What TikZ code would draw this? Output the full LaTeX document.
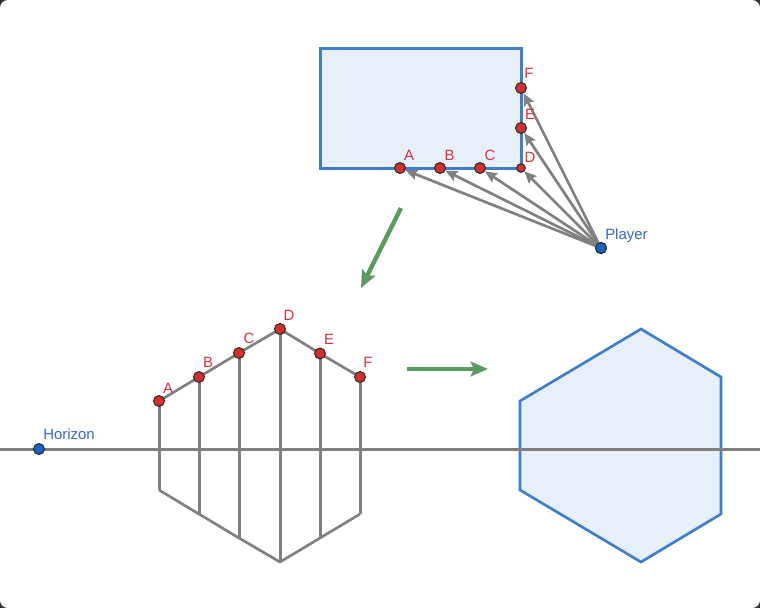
\documentclass[tikz,border=0pt]{standalone}
\usepackage{fontspec}
\setmainfont{Liberation Sans}
\definecolor{edgeblue}{HTML}{3D7FCC}
\definecolor{fillblue}{HTML}{E7F0F9}
\definecolor{ptred}{HTML}{D32F2F}
\definecolor{ptblue}{HTML}{1565C0}
\definecolor{linegray}{HTML}{808080}
\definecolor{arrowgreen}{HTML}{5A9A5E}
\definecolor{labred}{HTML}{D8303A}
\definecolor{labblue}{HTML}{3568C0}
\definecolor{cornerdark}{HTML}{303030}
\usetikzlibrary{arrows.meta}
\tikzset{
  x=0.75pt,y=-0.75pt,
  shapeline/.style={draw=edgeblue,fill=fillblue,line width=2pt,line join=miter},
  rectline/.style={shapeline,line width=2.25pt},
  guide/.style={draw=linegray,line width=2pt},
  straight/.style={draw=linegray,line width=2.25pt},
  ray/.style={draw=linegray,line width=2pt,-{Stealth[length=9pt,width=8pt,inset=1.5pt]}},
  flow/.style={draw=arrowgreen,line width=3.2pt,-{Stealth[length=13pt,width=11pt,inset=2.5pt]}},
  redpt/.style={circle,draw=black!85,line width=0.75pt,fill=ptred,inner sep=0pt,minimum size=8.2pt},
  smallpt/.style={redpt,minimum size=6.4pt},
  bluept/.style={redpt,fill=ptblue},
  lab/.style={font=\fontsize{11.2pt}{13pt}\selectfont,text=labred,inner sep=0pt},
  blab/.style={lab,text=labblue},
}
\begin{document}
\begin{tikzpicture}
\useasboundingbox (0,0) rectangle (760,608);
\fill[cornerdark] (0,0) rectangle (760,608);
\fill[white,rounded corners=6pt] (0,0) rectangle (760,608);
% top rectangle
\draw[rectline] (320,48) rectangle (521,168);
% top points
\node[redpt] (ta) at (400,168) {};
\node[redpt] (tb) at (440,168) {};
\node[redpt] (tc) at (480,168) {};
\node[smallpt] (td) at (521,168) {};
\node[redpt] (te) at (521,128) {};
\node[redpt] (tf) at (521,88) {};
\node[bluept] (player) at (601,248) {};
\foreach \t in {ta,tb,tc,td,te,tf}{
  \draw[ray] (player.center) -- (\t);
}
\node[bluept] at (601,248) {};
\node[lab] at (409,155) {A};
\node[lab] at (449.5,155) {B};
\node[lab] at (490,155) {C};
\node[lab] at (530,157) {D};
\node[lab] at (530,114) {E};
\node[lab] at (529,73) {F};
\node[blab,anchor=west] at (605,236) {Player};
% green arrows
\coordinate (g1s) at (401,208);
\coordinate (g1e) at (361,288);
\draw[flow] (g1s) -- (g1e);
\coordinate (g2s) at (407,369);
\coordinate (g2e) at (488,369);
\draw[flow] (g2s) -- (g2e);
% hexagon
\draw[shapeline] (520,401) -- (641,329) -- (721,377) -- (721,514) -- (641,562) -- (520,490) -- cycle;
% horizon
\coordinate (hl) at (0,449);
\coordinate (hr) at (760,449);
\draw[straight] (hl) -- (hr);
\node[bluept] (hz) at (39,449) {};
\node[blab,anchor=west] at (43,434.5) {Horizon};
% wall
\coordinate (a2) at (159,490);
\coordinate (b2) at (199,514);
\coordinate (c2) at (239,538);
\coordinate (d2) at (280,562);
\coordinate (e2) at (320,538);
\coordinate (f2) at (360,514);
\coordinate (a1) at (159,401);
\coordinate (b1) at (199,377);
\coordinate (c1) at (239,353);
\coordinate (d1) at (280,329);
\coordinate (e1) at (320,353.5);
\coordinate (f1) at (360,377);
\draw[guide,line join=round] (a1) -- (b1) -- (c1) -- (d1) -- (e1) -- (f1);
\draw[guide,line join=round] (a2) -- (b2) -- (c2) -- (d2) -- (e2) -- (f2);
\foreach \p in {a,b,c,d,e,f}{
  \draw[straight] (\p1) -- (\p2);
}
\node[redpt] (wa) at (a1) {};
\node[redpt] (wb) at (b1) {};
\node[redpt] (wc) at (c1) {};
\node[redpt] (wd) at (d1) {};
\node[redpt] (we) at (e1) {};
\node[redpt] (wf) at (f1) {};
\node[lab] at (168,388) {A};
\node[lab] at (208,362.5) {B};
\node[lab] at (249,338.5) {C};
\node[lab] at (289,315.5) {D};
\node[lab] at (329,339.5) {E};
\node[lab] at (368,362.5) {F};
\end{tikzpicture}
\end{document}
